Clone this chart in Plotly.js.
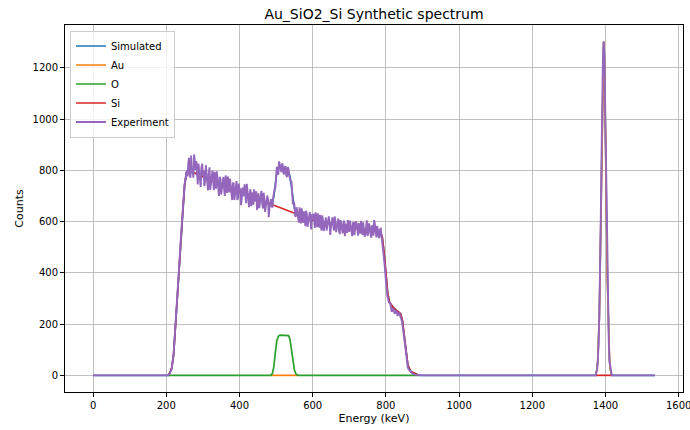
<!DOCTYPE html>
<html>
<head>
<meta charset="utf-8">
<script src="https://cdn.plot.ly/plotly-3.0.1.min.js"></script>
<style>html,body{margin:0;padding:0;background:#fff;}#chart{width:690px;height:430px;}</style>
</head>
<body>
<div id="chart"></div>
<script>
// ---- Data ----
const peakEnergy = [1373,1375,1377,1379,1381,1383,1385,1387,1389,1391,1393,1395,1397,1399,1401,1403,1405,1407,1409,1411,1413,1415,1417];
const peakCounts = [0,10,25,57,120,224,384,596,840,1072,1240,1302,1240,1072,840,596,384,224,120,57,25,10,0];
const peakExpCounts = [0,12,22,60,115,230,380,600,835,1080,1235,1302,1245,1065,845,590,390,220,125,55,28,8,0];

const siEnergy = [205,210,215,220,225,230,235,240,245,250,255,260,300,350,400,450,500,550,600,650,700,750,780,786,790,795,800,805,810,820,830,840,845,850,855,860,868,880,890,null,1373,1417];
const siCounts = [0,10,30,80,190,310,420,530,640,740,790,800,775,745,715,688,660,630,605,590,578,568,560,555,540,480,400,320,285,265,252,240,215,150,80,40,15,5,0,null,0,0];

const oEnergy = [205,486,490,494,498,502,506,510,534,538,542,546,550,554,558,562,890];
const oCounts = [0,0,8,35,90,135,152,157,155,140,100,55,22,6,1,0,0];

const auEnergy = [486,562,null].concat(peakEnergy);
const auCounts = [0,0,null].concat(peakCounts);

const simEnergy = [0,200,205,210,215,220,225,230,235,240,245,250,255,260,300,350,400,450,486,490,494,498,502,506,510,534,538,542,546,550,554,558,562,600,650,700,750,780,786,790,795,800,805,810,820,830,840,845,850,855,860,868,880,890].concat(peakEnergy).concat([1535]);
const simCounts = [0,0,0,10,30,80,190,310,420,530,640,740,790,800,775,745,715,688,668,674,698,751,794,808,811,795,777,735,687,652,634,627,624,605,590,578,568,560,555,540,480,400,320,285,265,252,240,215,150,80,40,15,5,0].concat(peakCounts).concat([0]);

const expEnergyRise = [0,200,205,210,215,220,225,230,235,240,245,250];
const expCountsRise = [0,0,0,8,25,85,185,315,420,540,630,745];
const expEnergyPlateau = [256,258,260,262,264,266,268,270,272,274,276,278,280,282,284,286,288,290,292,294,296,298,300,302,304,306,308,310,312,314,316,318,320,322,324,326,328,330,332,334,336,338,340,342,344,346,348,350,352,354,356,358,360,362,364,366,368,370,372,374,376,378,380,382,384,386,388,390,392,394,396,398,400,402,404,406,408,410,412,414,416,418,420,422,424,426,428,430,432,434,436,438,440,442,444,446,448,450,452,454,456,458,460,462,464,466,468,470,472,474,476,478,480,482,484,486,488,490,492,494,496,498,500,502,504,506,508,510,512,514,516,518,520,522,524,526,528,530,532,534,536,538,540,542,544,546,548,550,552,554,556,558,560,562,564,566,568,570,572,574,576,578,580,582,584,586,588,590,592,594,596,598,600,602,604,606,608,610,612,614,616,618,620,622,624,626,628,630,632,634,636,638,640,642,644,646,648,650,652,654,656,658,660,662,664,666,668,670,672,674,676,678,680,682,684,686,688,690,692,694,696,698,700,702,704,706,708,710,712,714,716,718,720,722,724,726,728,730,732,734,736,738,740,742,744,746,748,750,752,754,756,758,760,762,764,766,768,770,772,774,776,778,780,782,784,786,788];
const expCountsPlateau = [800,776,825,849,782,771,858,789,797,771,862,819,802,836,765,745,826,791,755,735,812,826,780,799,738,756,820,789,758,722,785,812,724,751,788,799,758,722,794,769,728,796,761,726,700,775,766,706,739,760,774,726,700,780,752,712,776,743,714,768,734,709,684,748,752,684,712,726,758,684,692,748,725,729,664,686,733,699,713,745,688,672,747,717,678,656,709,726,660,687,714,666,726,697,678,718,645,668,710,652,685,701,720,672,651,712,688,638,661,679,701,687,617,655,674,688,661,654,694,713,727,731,790,814,793,783,835,821,805,793,827,821,790,784,813,816,780,774,813,805,778,762,756,755,699,667,676,667,623,619,656,641,616,596,656,632,593,652,624,595,640,621,582,642,628,579,601,622,637,603,569,628,615,631,586,575,636,612,578,632,605,576,626,603,565,624,607,563,580,601,616,565,588,609,620,596,548,580,608,616,588,565,620,602,559,576,598,612,562,551,606,588,570,554,599,603,543,565,592,556,606,588,560,604,582,563,543,593,598,547,570,601,591,560,545,594,582,553,603,581,548,597,575,541,551,580,605,544,557,593,581,552,537,581,586,545,606,589,554,538,583,570,542,536,570,572,545];
const expEnergyTail = [792,796,800,804,808,812,816,820,824,828,832,836,840,844,848,852,856,860,864,868,872,880,890,900];
const expCountsTail = [500,440,370,310,285,280,248,262,240,255,232,245,228,210,170,120,55,30,20,12,7,3,1,0];

const expEnergy = expEnergyRise.concat(expEnergyPlateau, expEnergyTail, peakEnergy, [1535]);
const expCounts = expCountsRise.concat(expCountsPlateau, expCountsTail, peakExpCounts, [0]);

const xTicks = [0,200,400,600,800,1000,1200,1400,1600];
const yTicks = [0,200,400,600,800,1000,1200];

// ---- Traces ----
const lw = 1.7;
const traces = [
  {x: simEnergy, y: simCounts, name: 'Simulated', mode: 'lines', line: {color: '#1f77b4', width: lw}},
  {x: auEnergy, y: auCounts, name: 'Au', mode: 'lines', connectgaps: false, line: {color: '#ff7f0e', width: lw}},
  {x: oEnergy, y: oCounts, name: 'O', mode: 'lines', line: {color: '#2ca02c', width: lw}},
  {x: siEnergy, y: siCounts, name: 'Si', mode: 'lines', connectgaps: false, line: {color: '#d62728', width: lw}},
  {x: expEnergy, y: expCounts, name: 'Experiment', mode: 'lines', line: {color: '#9467bd', width: 1.9}}
];

const axisCommon = {
  showline: true, mirror: true, linecolor: '#000', linewidth: 1,
  ticks: 'outside', ticklen: 4, tickcolor: '#000', tickwidth: 1,
  showgrid: true, gridcolor: '#b0b0b0', gridwidth: 0.8,
  zeroline: false, ticklabeloverflow: 'allow',
  tickfont: {family: 'DejaVu Sans', size: 10, color: '#000'}
};

const layout = {
  width: 690, height: 430,
  margin: {l: 65, r: 7, t: 25, b: 38},
  paper_bgcolor: '#fff', plot_bgcolor: '#fff',
  font: {family: 'DejaVu Sans', color: '#000'},
  title: {text: 'Au_SiO2_Si Synthetic spectrum', font: {family: 'DejaVu Sans', size: 14, color: '#000'}, xref: 'paper', x: 0.5, xanchor: 'center', yref: 'container', y: 0.968, yanchor: 'middle'},
  xaxis: Object.assign({}, axisCommon, {
    range: [-76.75, 1611.75], tickvals: xTicks, ticktext: xTicks.map(String),
    title: {text: 'Energy (keV)', font: {family: 'DejaVu Sans', size: 11, color: '#000'}, standoff: 4}
  }),
  yaxis: Object.assign({}, axisCommon, {
    range: [-65, 1367], tickvals: yTicks, ticktext: yTicks.map(String),
    title: {text: 'Counts', font: {family: 'DejaVu Sans', size: 11, color: '#000'}, standoff: 6}
  }),
  legend: {
    x: 0.008, y: 0.985, xanchor: 'left', yanchor: 'top',
    bgcolor: 'rgba(255,255,255,0.8)', bordercolor: '#cccccc', borderwidth: 1,
    font: {family: 'DejaVu Sans', size: 10, color: '#000'},
    tracegroupgap: 0, itemwidth: 30
  },
  showlegend: true
};

Plotly.newPlot('chart', traces, layout, {displayModeBar: false, staticPlot: true});
</script>
</body>
</html>
